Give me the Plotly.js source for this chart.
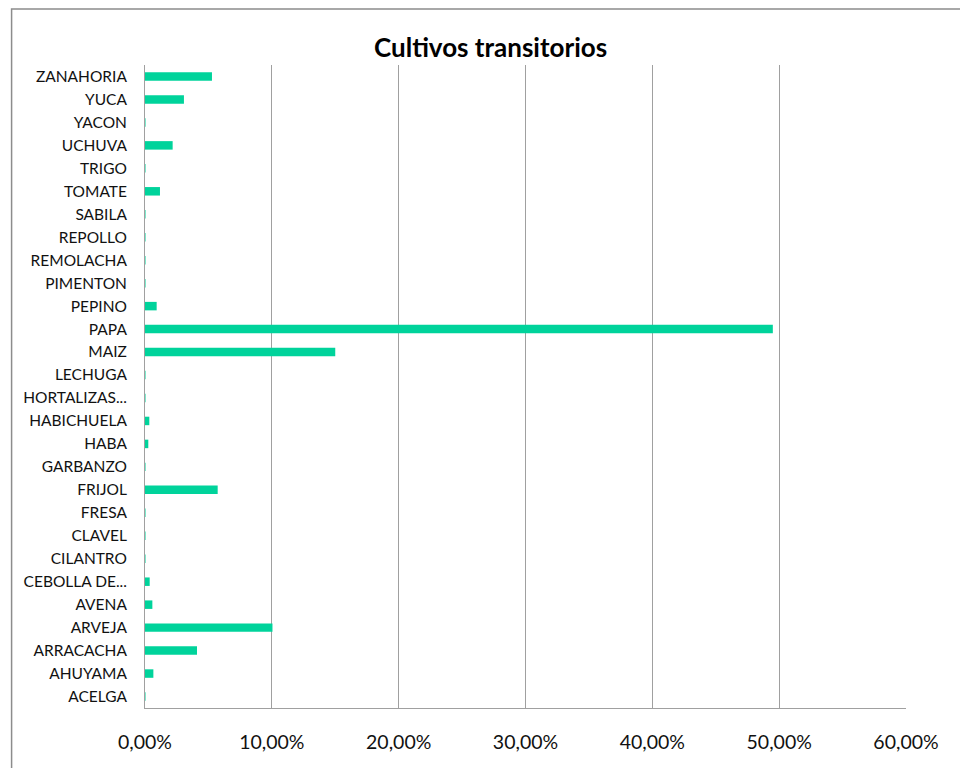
<!DOCTYPE html>
<html>
<head>
<meta charset="utf-8">
<script src="https://cdn.plot.ly/plotly-3.0.1.min.js"></script>
<style>
html,body{margin:0;padding:0;background:#fff;}
#chart{width:960px;height:768px;}
</style>
</head>
<body>
<div id="chart"></div>
<script>
const categories = ["ACELGA","AHUYAMA","ARRACACHA","ARVEJA","AVENA","CEBOLLA DE...","CILANTRO","CLAVEL","FRESA","FRIJOL","GARBANZO","HABA","HABICHUELA","HORTALIZAS...","LECHUGA","MAIZ","PAPA","PEPINO","PIMENTON","REMOLACHA","REPOLLO","SABILA","TOMATE","TRIGO","UCHUVA","YACON","YUCA","ZANAHORIA"];
const values = [0.04,0.66,4.1,10.05,0.58,0.37,0.04,0.04,0.04,5.73,0.04,0.26,0.34,0.04,0.04,15.0,49.5,0.92,0.04,0.04,0.04,0.04,1.18,0.04,2.18,0.04,3.07,5.28];
const xTicks = [0,10,20,30,40,50,60];
const xTickLabels = ["0,00%","10,00%","20,00%","30,00%","40,00%","50,00%","60,00%"];

const trace = {
  type: 'bar',
  orientation: 'h',
  y: categories,
  x: values,
  marker: {color: '#00d39b'},
  hoverinfo: 'x+y'
};

const layout = {
  width: 960, height: 768,
  margin: {l: 145, r: 53.5, t: 65, b: 60},
  paper_bgcolor: '#fff', plot_bgcolor: '#fff',
  font: {family: 'Lato, "Open Sans", sans-serif', color: '#111'},
  title: {text: 'Cultivos transitorios', font: {size: 26, family: 'Lato, sans-serif', weight: 'bold', color: '#000'}, x: 0.511, xanchor: 'center', y: 0.937, yanchor: 'middle'},
  bargap: 0.63,
  showlegend: false,
  xaxis: {
    range: [0, 60],
    tickmode: 'array',
    tickvals: xTicks,
    ticktext: xTickLabels,
    showgrid: true, gridcolor: '#a0a0a0', gridwidth: 1,
    zeroline: false,
    showline: true, linecolor: '#a0a0a0', linewidth: 1,
    ticks: '',
    ticklabelstandoff: 17,
    tickfont: {size: 19.5, color: '#111'},
    fixedrange: true
  },
  yaxis: {
    type: 'category',
    categoryorder: 'array', categoryarray: categories,
    showline: true, linecolor: '#a0a0a0', linewidth: 1,
    showgrid: false, zeroline: false,
    ticks: '',
    ticklabelstandoff: 14,
    tickfont: {size: 15.5, color: '#111'},
    fixedrange: true
  },
  shapes: [{
    type: 'rect', xref: 'paper', yref: 'paper',
    x0: (11.5-145)/761.5, x1: 1.2, y0: -0.2, y1: 1 + (65-9)/643,
    line: {color: '#8c8c8c', width: 1.5}, fillcolor: 'rgba(0,0,0,0)', layer: 'below'
  }]
};

Plotly.newPlot('chart', [trace], layout, {displayModeBar: false, staticPlot: true});
</script>
</body>
</html>
